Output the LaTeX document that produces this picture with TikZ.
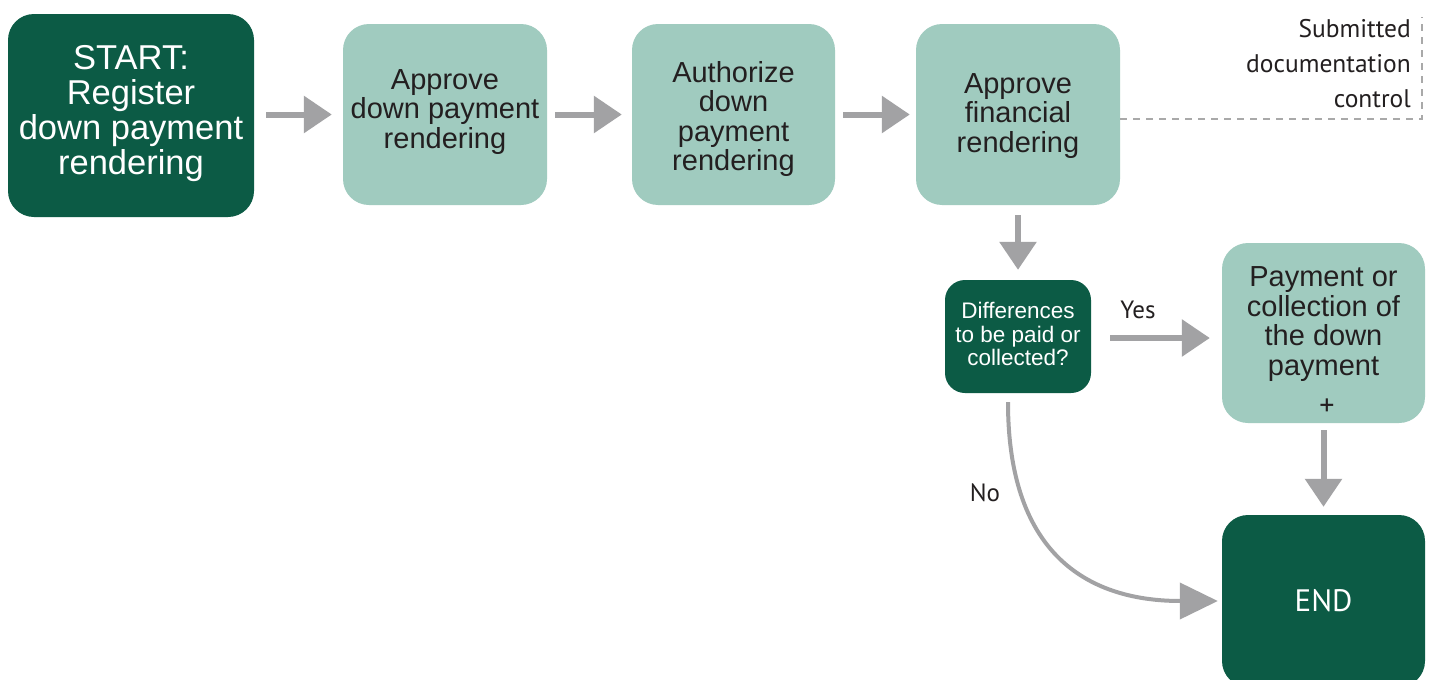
\documentclass[tikz,border=0pt]{standalone}
\usepackage{fontspec}
\setmainfont{Liberation Sans}
\newfontfamily\labelfont{PT Sans}
\usetikzlibrary{arrows.meta}

\definecolor{darkgreen}{HTML}{0C5B45}
\definecolor{lightgreen}{HTML}{A0CBBF}
\definecolor{arrowgray}{HTML}{A2A2A4}
\definecolor{dashgray}{HTML}{A9A9A9}
\definecolor{inktext}{HTML}{231F20}

\tikzset{
  darkbox/.style={rectangle, rounded corners=26pt, fill=darkgreen, text=white,
    align=center, inner sep=0pt},
  lightbox/.style={rectangle, rounded corners=26pt, fill=lightgreen, text=inktext,
    align=center, inner sep=0pt},
  flowarrow/.style={draw=arrowgray, line width=6pt,
    -{Triangle[length=28pt,width=36pt]}},
  curvearrow/.style={draw=arrowgray, line width=4pt,
    -{Triangle[length=38pt,width=36pt]}},
  linklabel/.style={text=inktext, inner sep=0pt, font=\labelfont\fontsize{25}{30}\selectfont},
}

\begin{document}
\begin{tikzpicture}[x=1pt, y=-1pt]
  \clip (0,0) rectangle (1435,680);
  \fill[white] (0,0) rectangle (1435,680);

  % top row of process steps
  \node[darkbox, minimum width=246pt, minimum height=203pt] (start) at (131,115.5) {};
  \node[text=white, align=center, font=\fontsize{34.5}{35}\selectfont] (starttext) at (131,114)
    {START:\\Register\\down payment\\rendering};

  \node[lightbox, minimum width=204pt, minimum height=181pt] (appdown) at (445,114.5) {};
  \node[text=inktext, align=center, font=\fontsize{29}{29.5}\selectfont] (appdowntext) at (445,112)
    {Approve\\down payment\\rendering};

  \node[lightbox, minimum width=203pt, minimum height=181pt] (auth) at (733.5,114.5) {};
  \node[text=inktext, align=center, font=\fontsize{29}{29.5}\selectfont] (authtext) at (733.5,119)
    {Authorize\\down\\payment\\rendering};

  \node[lightbox, minimum width=204pt, minimum height=181pt] (fin) at (1018,114.5) {};
  \node[text=inktext, align=center, font=\fontsize{29}{29.5}\selectfont] (fintext) at (1018,116)
    {Approve\\financial\\rendering};

  % decision and branches
  \node[darkbox, rounded corners=20pt, minimum width=146pt, minimum height=113pt] (diff) at (1018,336.5) {};
  \node[text=white, align=center, font=\fontsize{22.5}{23.5}\selectfont] (difftext) at (1018,334)
    {Differences\\to be paid or\\collected?};

  \node[lightbox, minimum width=203pt, minimum height=180pt] (pay) at (1323.5,333) {};
  \node[text=inktext, align=center, font=\fontsize{29}{29.5}\selectfont] (paytext) at (1323.5,324)
    {Payment or\\collection of\\the down\\payment};
  \node[text=inktext, inner sep=0pt, font=\labelfont\fontsize{30}{30}\selectfont] (plus) at (1327,407) {+};

  \node[darkbox, minimum width=203pt, minimum height=172pt] (finish) at (1323.5,601) {};
  \node[text=white, inner sep=0pt, font=\labelfont\fontsize{31}{31}\selectfont] (finishtext) at (1323.5,601) {END};

  % side note with its dashed bracket
  \node[anchor=north east, align=right, inner sep=0pt, text=inktext,
        font=\labelfont\fontsize{25.5}{35}\selectfont] (note) at (1411,19)
    {Submitted\\documentation\\control};
  \coordinate (notecorner) at (1422,119);
  \coordinate (notetop) at (1422,17);
  \draw[dashgray, line width=2.5pt, dash pattern=on 7pt off 6pt]
    ([yshift=-4.5pt]fin.east) -- (notecorner) -- (notetop);

  % connectors
  \draw[flowarrow, shorten <=12pt, shorten >=11pt] (start.east |- appdown.east) -- (appdown.east -| appdown.west);
  \draw[flowarrow, shorten <=8pt, shorten >=10pt] (appdown.east) -- (auth.west);
  \draw[flowarrow, shorten <=8pt, shorten >=6pt] (auth.east) -- (fin.west);
  \draw[flowarrow, shorten <=10pt, shorten >=10pt] (fin.south) -- (diff.north);
  \draw[flowarrow, shorten <=19pt, shorten >=12pt] ([yshift=-1.5pt]diff.east) -- ([yshift=-1.5pt]diff.east -| pay.west);
  \draw[flowarrow, shorten <=7pt, shorten >=8pt] (pay.south) -- (finish.north);
  \draw[curvearrow, shorten <=9pt, shorten >=4pt]
    ([xshift=-10pt]diff.south) .. controls +(0,165) and +(-130,0) .. (finish.west);

  % branch labels
  \node[linklabel] (yes) at (1138,310) {Yes};
  \node[linklabel] (no) at (985,493) {No};
\end{tikzpicture}
\end{document}
